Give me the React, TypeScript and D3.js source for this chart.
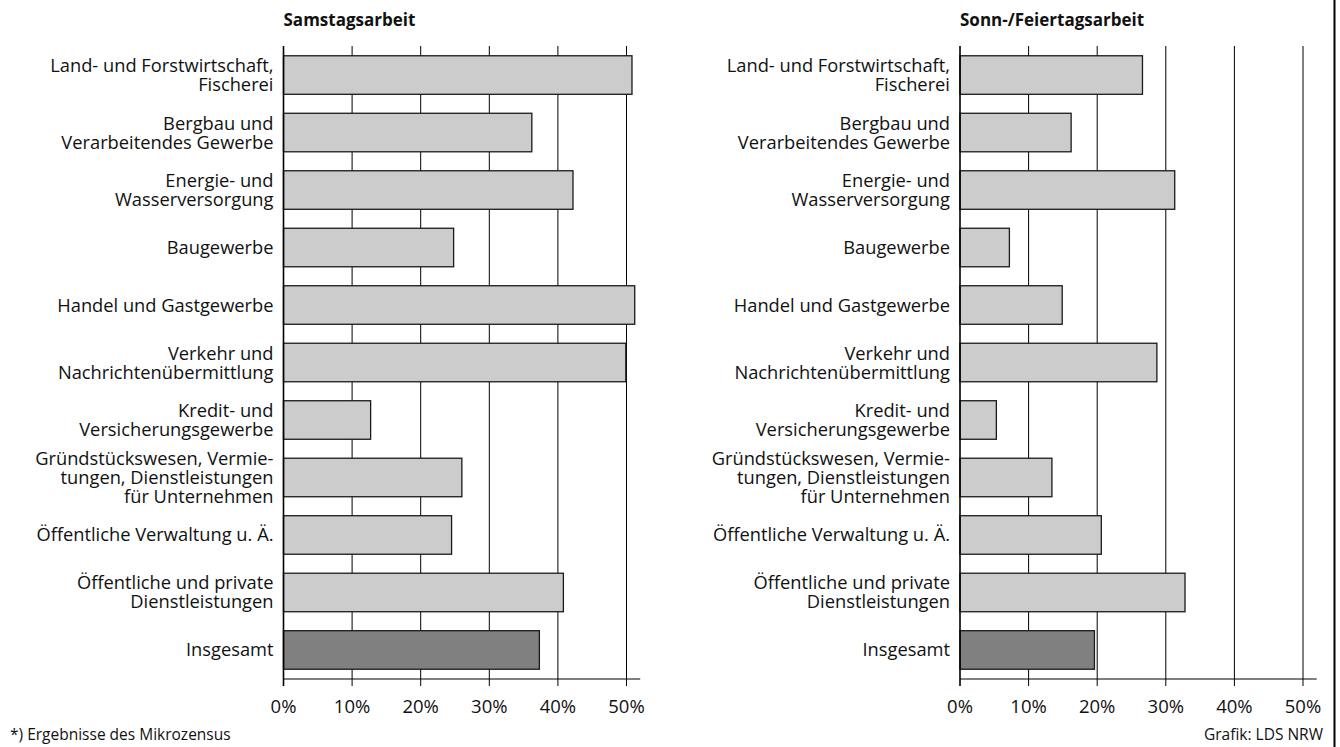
import React, { useRef, useEffect } from 'react';
import * as d3 from 'd3';

// branch labels, \n marks a line break
const categories = [
  'Land- und Forstwirtschaft,\nFischerei',
  'Bergbau und\nVerarbeitendes Gewerbe',
  'Energie- und\nWasserversorgung',
  'Baugewerbe',
  'Handel und Gastgewerbe',
  'Verkehr und\nNachrichtenübermittlung',
  'Kredit- und\nVersicherungsgewerbe',
  'Gründstückswesen, Vermie-\ntungen, Dienstleistungen\nfür Unternehmen',
  'Öffentliche Verwaltung u. Ä.',
  'Öffentliche und private\nDienstleistungen',
  'Insgesamt',
];

const samstagValues = [50.8, 36.2, 42.2, 24.8, 51.2, 49.9, 12.7, 26.0, 24.5, 40.8, 37.3];
const sonntagValues = [26.6, 16.2, 31.3, 7.2, 14.9, 28.7, 5.3, 13.4, 20.6, 32.8, 19.6];
const tickValues = [0, 10, 20, 30, 40, 50];

const panelTitles = ['Samstagsarbeit', 'Sonn-/Feiertagsarbeit'];

const W = 1340;
const H = 747;
const FONT = '"Open Sans", "Noto Sans", sans-serif';

const App = () => {
  const ref = useRef<SVGSVGElement>(null);

  useEffect(() => {
    const svg = d3.select(ref.current);
    svg.selectAll('*').remove();

    const top = 46;
    const axisY = 679;
    const y = d3.scaleBand<string>()
      .domain(categories)
      .range([top, axisY])
      .paddingInner(0.33)
      .paddingOuter(0.17);

    const panels = [
      { title: panelTitles[0], values: samstagValues, x0: 283.5 },
      { title: panelTitles[1], values: sonntagValues, x0: 960 },
    ];

    panels.forEach(p => {
      const x = d3.scaleLinear().domain([0, 50]).range([p.x0, p.x0 + 343]);
      const g = svg.append('g');

      // gridlines (run into tick marks below the axis)
      g.selectAll('line.grid')
        .data(tickValues.slice(1))
        .enter()
        .append('line')
        .attr('x1', d => x(d)).attr('x2', d => x(d))
        .attr('y1', top).attr('y2', axisY + 7)
        .attr('stroke', '#000')
        .attr('stroke-width', 1);

      // bars
      g.selectAll('rect')
        .data(p.values)
        .enter()
        .append('rect')
        .attr('x', x(0))
        .attr('y', (d, i) => y(categories[i]) as number)
        .attr('width', d => x(d) - x(0))
        .attr('height', y.bandwidth())
        .attr('fill', (d, i) => (i === categories.length - 1 ? '#808080' : '#cccccc'))
        .attr('stroke', '#1a1a1a')
        .attr('stroke-width', 1.3);

      // axes
      g.append('line')
        .attr('x1', x(0)).attr('x2', x(0))
        .attr('y1', top).attr('y2', axisY + 7)
        .attr('stroke', '#000').attr('stroke-width', 1.6);
      g.append('line')
        .attr('x1', x(0)).attr('x2', x(52))
        .attr('y1', axisY).attr('y2', axisY)
        .attr('stroke', '#000').attr('stroke-width', 1.2);

      g.selectAll('text.tick')
        .data(tickValues)
        .enter()
        .append('text')
        .attr('x', d => x(d))
        .attr('y', axisY + 34)
        .attr('text-anchor', 'middle')
        .style('font-family', FONT)
        .style('font-size', '18.5px')
        .style('fill', '#111')
        .text(d => `${d}%`);

      // category labels
      categories.forEach(c => {
        const lines = c.split('\n');
        const cy = (y(c) as number) + y.bandwidth() / 2;
        const lh = 19;
        const t = g.append('text')
          .attr('text-anchor', 'end')
          .style('font-family', FONT)
          .style('font-size', '18.3px')
          .style('fill', '#111');
        lines.forEach((l, k) => {
          t.append('tspan')
            .attr('x', x(0) - 10)
            .attr('y', cy + (k - (lines.length - 1) / 2) * lh + 6.5)
            .text(l);
        });
      });

      g.append('text')
        .attr('x', x(0))
        .attr('y', 26)
        .style('font-family', FONT)
        .style('font-size', '17px')
        .style('font-weight', 'bold')
        .style('fill', '#111')
        .text(p.title);
    });

    svg.append('text')
      .attr('x', 10).attr('y', 740)
      .style('font-family', FONT).style('font-size', '15.5px').style('fill', '#111')
      .text('*) Ergebnisse des Mikrozensus');

    svg.append('text')
      .attr('x', 1323).attr('y', 740)
      .attr('text-anchor', 'end')
      .style('font-family', FONT).style('font-size', '15.5px').style('fill', '#111')
      .text('Grafik: LDS NRW');

    // frame line on the right edge
    svg.append('line')
      .attr('x1', 1334.5).attr('x2', 1334.5)
      .attr('y1', 0).attr('y2', H)
      .attr('stroke', '#000').attr('stroke-width', 2);
  }, []);

  return (
    <svg
      ref={ref}
      width={W}
      height={H}
      style={{ position: 'absolute', left: 0, top: 0, background: '#fff' }}
    />
  );
};

export default App;
